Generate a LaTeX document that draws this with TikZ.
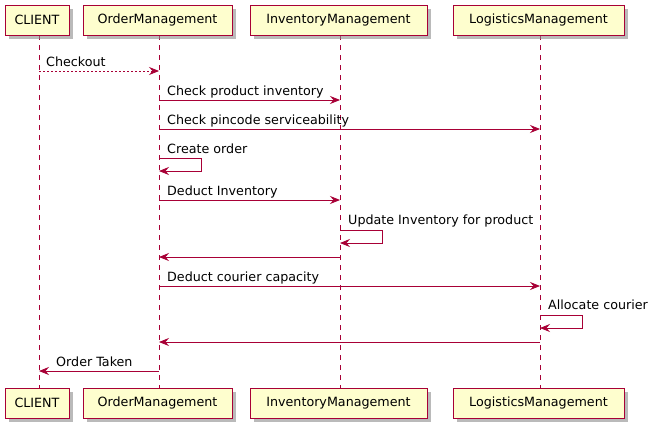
\documentclass[tikz,border=0pt]{standalone}
\usepackage{fontspec}
\setmainfont{DejaVu Sans}
\usetikzlibrary{arrows.meta,shadows}
\definecolor{pred}{HTML}{A80036}
\definecolor{pfill}{HTML}{FEFECE}
\begin{document}
\begin{tikzpicture}[x=1pt,y=-1pt,
  part/.style={draw=pred, fill=pfill, line width=0.9pt, minimum height=30pt, inner sep=0pt,
    font=\fontsize{12.7}{15}\selectfont,
    drop shadow={shadow xshift=4pt,shadow yshift=-4pt,fill=black!45,opacity=0.6}},
  life/.style={draw=pred, line width=0.8pt, dash pattern=on 5pt off 5pt},
  msg/.style={draw=pred, line width=0.8pt, -{Stealth[length=10pt,width=8pt,inset=3.5pt]}},
  reply/.style={msg, dash pattern=on 2pt off 2pt},
  lbl/.style={anchor=base west, inner sep=0pt, font=\fontsize{12.7}{15}\selectfont}]
\useasboundingbox[fill=white] (0,0) rectangle (652,431);
% lifelines
\coordinate (cT) at (39,35); \coordinate (cB) at (39,388);
\coordinate (oT) at (159,35); \coordinate (oB) at (159,388);
\coordinate (iT) at (340,35); \coordinate (iB) at (340,388);
\coordinate (lT) at (540,35); \coordinate (lB) at (540,388);
\draw[life] (cT) -- (cB);
\draw[life] (oT) -- (oB);
\draw[life] (iT) -- (iB);
\draw[life] (lT) -- (lB);
% participant boxes
\node[part, minimum width=64pt] (c1) at (37,20) {CLIENT};
\node[part, minimum width=149pt] (o1) at (157.5,20) {OrderManagement};
\node[part, minimum width=177pt] (i1) at (338.5,20) {InventoryManagement};
\node[part, minimum width=171pt] (l1) at (538.5,20) {LogisticsManagement};
\node[part, minimum width=64pt] (c2) at (37,403) {CLIENT};
\node[part, minimum width=149pt] (o2) at (157.5,403) {OrderManagement};
\node[part, minimum width=177pt] (i2) at (338.5,403) {InventoryManagement};
\node[part, minimum width=171pt] (l2) at (538.5,403) {LogisticsManagement};
% message points
\coordinate (m1a) at (39,71);  \coordinate (m1b) at (159,71);
\coordinate (m2a) at (159,100); \coordinate (m2b) at (340,100);
\coordinate (m3a) at (159,129); \coordinate (m3b) at (540,129);
\coordinate (s1a) at (159,158); \coordinate (s1b) at (201,158); \coordinate (s1c) at (201,171); \coordinate (s1d) at (159,171);
\coordinate (m4a) at (159,200); \coordinate (m4b) at (340,200);
\coordinate (s2a) at (340,230); \coordinate (s2b) at (382,230); \coordinate (s2c) at (382,243); \coordinate (s2d) at (340,243);
\coordinate (m5a) at (340,257); \coordinate (m5b) at (159,257);
\coordinate (m6a) at (159,286); \coordinate (m6b) at (540,286);
\coordinate (s3a) at (540,315); \coordinate (s3b) at (582,315); \coordinate (s3c) at (582,328); \coordinate (s3d) at (540,328);
\coordinate (m7a) at (540,342); \coordinate (m7b) at (159,342);
\coordinate (m8a) at (159,371); \coordinate (m8b) at (39,371);
% messages
\draw[reply] (m1a) -- (m1b);
\node[lbl] (t1) at (46,66.5) {Checkout};
\draw[msg] (m2a) -- (m2b);
\node[lbl] (t2) at (167,95.5) {Check product inventory};
\draw[msg] (m3a) -- (m3b);
\node[lbl] (t3) at (167,124.5) {Check pincode serviceability};
\draw[msg] (s1a) -- (s1b) -- (s1c) -- (s1d);
\node[lbl] (t4) at (167,153.5) {Create order};
\draw[msg] (m4a) -- (m4b);
\node[lbl] (t5) at (167,195.5) {Deduct Inventory};
\draw[msg] (s2a) -- (s2b) -- (s2c) -- (s2d);
\node[lbl] (t6) at (348,224.5) {Update Inventory for product};
\draw[msg] (m5a) -- (m5b);
\draw[msg] (m6a) -- (m6b);
\node[lbl] (t7) at (167,281.5) {Deduct courier capacity};
\draw[msg] (s3a) -- (s3b) -- (s3c) -- (s3d);
\node[lbl] (t8) at (548,309.5) {Allocate courier};
\draw[msg] (m7a) -- (m7b);
\draw[msg] (m8a) -- (m8b);
\node[lbl] (t9) at (56,366.5) {Order Taken};
\end{tikzpicture}
\end{document}
